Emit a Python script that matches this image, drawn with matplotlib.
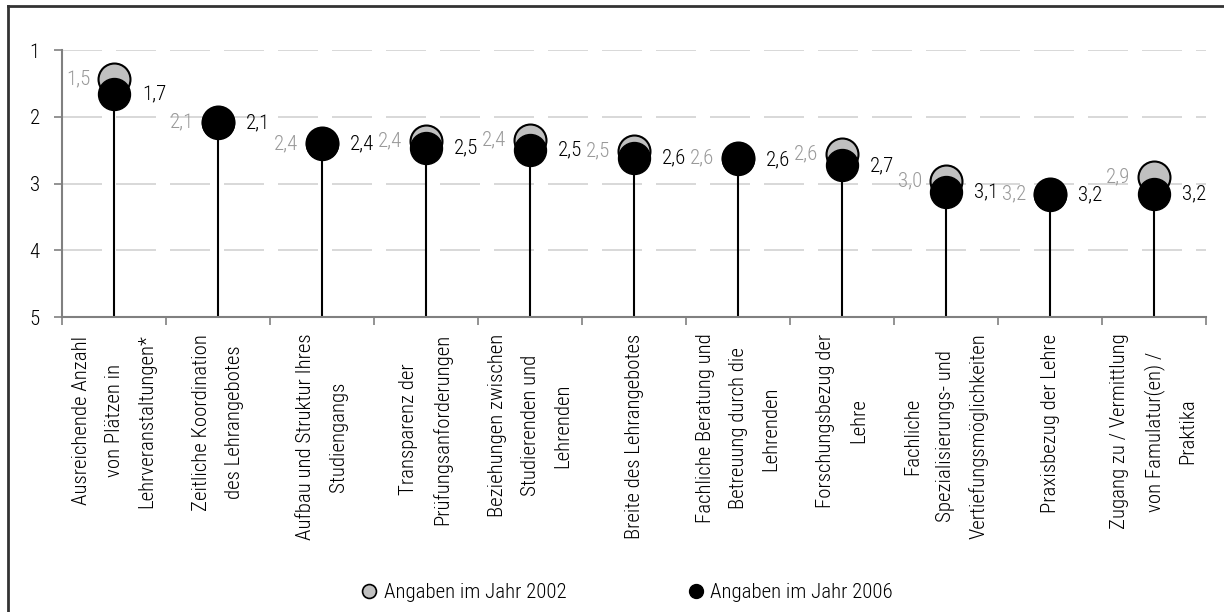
import matplotlib
matplotlib.use('Agg')
import matplotlib.pyplot as plt
from matplotlib.lines import Line2D

# condensed face similar to the original; later names are fallbacks
plt.rcParams['font.family'] = ['Roboto Condensed', 'Archivo Narrow', 'DejaVu Sans']
plt.rcParams['font.weight'] = 'light'

# data (scale 1 = best, 5 = worst)
categories = [
    'Ausreichende Anzahl\nvon Plätzen in\nLehrveranstaltungen*',
    'Zeitliche Koordination\ndes Lehrangebotes',
    'Aufbau und Struktur Ihres\nStudiengangs',
    'Transparenz der\nPrüfungsanforderungen',
    'Beziehungen zwischen\nStudierenden und\nLehrenden',
    'Breite des Lehrangebotes',
    'Fachliche Beratung und\nBetreuung durch die\nLehrenden',
    'Forschungsbezug der\nLehre',
    'Fachliche\nSpezialisierungs- und\nVertiefungsmöglichkeiten',
    'Praxisbezug der Lehre',
    'Zugang zu / Vermittlung\nvon Famulatur(en) /\nPraktika',
]
y2002 = [1.43, 2.08, 2.40, 2.36, 2.35, 2.51, 2.62, 2.56, 2.96, 3.16, 2.90]
y2006 = [1.66, 2.09, 2.41, 2.47, 2.50, 2.62, 2.64, 2.73, 3.13, 3.17, 3.15]
labels2002 = ['1,5', '2,1', '2,4', '2,4', '2,4', '2,5', '2,6', '2,6', '3,0', '3,2', '2,9']
labels2006 = ['1,7', '2,1', '2,4', '2,5', '2,5', '2,6', '2,6', '2,7', '3,1', '3,2', '3,2']

W, H = 1224, 612
fig = plt.figure(figsize=(W / 100, H / 100), dpi=100)
ax = fig.add_axes([62 / W, 1 - 317 / H, (1206 - 62) / W, (317 - 50) / H])

x = list(range(len(categories)))

# stems from the bottom (5) up to the 2006 value
ax.vlines(x, 5, y2006, color='black', lw=1.5, zorder=2)
ax.plot(x, y2002, 'o', ms=23, mfc='#c0c0c0', mec='black', mew=1.5, zorder=3)
ax.plot(x, y2006, 'o', ms=23, mfc='black', mec='black', mew=1, zorder=4)

for xi, v, t in zip(x, y2002, labels2002):
    ax.annotate(t, (xi, v), xytext=(-17, 0), textcoords='offset points',
                ha='right', va='center', fontsize=15, color='#999999')
for xi, v, t in zip(x, y2006, labels2006):
    ax.annotate(t, (xi, v), xytext=(20, 0), textcoords='offset points',
                ha='left', va='center', fontsize=15, color='black')

ax.set_xlim(-0.5, len(categories) - 0.5)
ax.set_ylim(5, 1)
ax.set_yticks([1, 2, 3, 4, 5])
ax.tick_params(axis='y', labelsize=15, length=6, width=1.2, color='#808080', pad=10)

ax.set_xticks(x)
ax.set_xticklabels(categories, rotation=90, fontsize=15, va='top', ha='center',
                   multialignment='center', linespacing=1.9)
ax.set_xticks([i - 0.5 for i in range(len(categories) + 1)], minor=True)
ax.tick_params(axis='x', which='major', length=0, pad=12)
ax.tick_params(axis='x', which='minor', length=6, width=1.2, color='#808080')

ax.yaxis.grid(True, color='#d9d9d9', lw=1.44, linestyle=(0, (20, 7)))
ax.set_axisbelow(True)
for s in ['top', 'right']:
    ax.spines[s].set_visible(False)
for s in ['left', 'bottom']:
    ax.spines[s].set_color('#808080')
    ax.spines[s].set_linewidth(1.5)

handles = [
    Line2D([], [], marker='o', ls='', ms=10, mfc='#c0c0c0', mec='black', mew=1.2),
    Line2D([], [], marker='o', ls='', ms=10, mfc='black', mec='black'),
]
fig.legend(handles, ['Angaben im Jahr 2002', 'Angaben im Jahr 2006'],
           loc='center', bbox_to_anchor=(627 / W, 1 - 593 / H), ncol=2, frameon=False,
           fontsize=15, handlelength=0.8, handletextpad=0.3, columnspacing=5.8)

# outer frame (only top and left edges visible)
fig.add_artist(Line2D([8 / W, 8 / W], [0, 1 - 6 / H], transform=fig.transFigure,
                      color='#333333', lw=2))
fig.add_artist(Line2D([8 / W, 1], [1 - 6 / H, 1 - 6 / H], transform=fig.transFigure,
                      color='#333333', lw=2))

fig.savefig('out.png', dpi=100)
